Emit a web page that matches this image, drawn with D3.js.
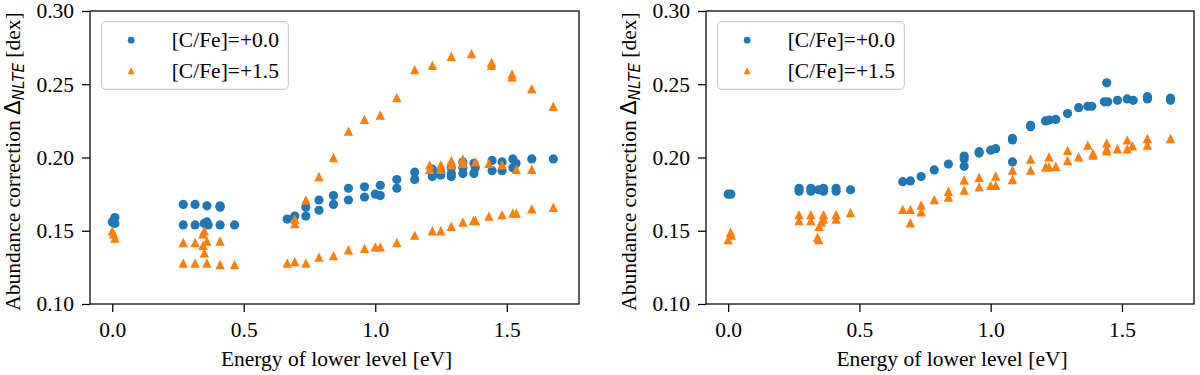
<!DOCTYPE html>
<html>
<head>
<meta charset="utf-8">
<script src="https://cdn.jsdelivr.net/npm/d3@7"></script>
<style>
  body { margin: 0; background: #fff; }
  svg { display: block; }
</style>
</head>
<body>
<svg id="chart" width="1200" height="375" font-family="Liberation Serif"></svg>
<script>
// ---------- Data (Energy of lower level [eV], abundance correction [dex]) ----------
const xTicks = [0.0, 0.5, 1.0, 1.5];
const yTicks = [0.10, 0.15, 0.20, 0.25, 0.30];
const legendLabels = ["[C/Fe]=+0.0", "[C/Fe]=+1.5"];

// Left panel, [C/Fe]=+0.0
const leftC00 = [
  [0.0,0.156],[0.01,0.159],[0.01,0.155],
  [0.27,0.168],[0.27,0.154],[0.315,0.168],[0.315,0.154],
  [0.35,0.155],[0.36,0.156],[0.36,0.167],[0.365,0.154],
  [0.41,0.167],[0.41,0.154],[0.41,0.166],[0.465,0.154],
  [0.665,0.158],[0.694,0.160],[0.736,0.166],[0.736,0.160],
  [0.786,0.171],[0.786,0.164],[0.841,0.174],[0.841,0.168],
  [0.898,0.179],[0.898,0.171],[0.959,0.180],[0.959,0.173],
  [1.0,0.175],[1.019,0.181],[1.019,0.174],
  [1.082,0.185],[1.082,0.179],[1.150,0.190],[1.150,0.185],
  [1.217,0.192],[1.217,0.189],[1.217,0.187],
  [1.249,0.190],[1.249,0.188],
  [1.289,0.193],[1.289,0.189],[1.289,0.187],
  [1.333,0.197],[1.333,0.193],[1.333,0.189],
  [1.375,0.196],[1.375,0.189],[1.38,0.193],
  [1.444,0.198],[1.444,0.191],[1.482,0.197],[1.482,0.191],
  [1.523,0.199],[1.523,0.193],[1.535,0.196],
  [1.595,0.199],[1.677,0.199]
];
// Left panel, [C/Fe]=+1.5
const leftC15 = [
  [0.0,0.150],[0.005,0.148],[0.01,0.145],
  [0.27,0.142],[0.27,0.128],[0.315,0.142],[0.315,0.128],
  [0.345,0.148],[0.345,0.140],[0.35,0.150],[0.35,0.135],
  [0.36,0.143],[0.36,0.128],[0.41,0.143],[0.41,0.127],[0.465,0.127],
  [0.665,0.128],[0.694,0.129],[0.694,0.158],[0.694,0.155],
  [0.736,0.128],[0.736,0.171],[0.786,0.187],[0.786,0.132],
  [0.841,0.200],[0.841,0.133],[0.898,0.218],[0.898,0.137],
  [0.959,0.226],[0.959,0.138],[1.0,0.139],[1.019,0.229],[1.019,0.139],
  [1.082,0.241],[1.082,0.142],[1.150,0.260],[1.150,0.147],
  [1.207,0.195],[1.207,0.192],[1.217,0.263],[1.217,0.150],
  [1.249,0.195],[1.249,0.192],[1.249,0.150],
  [1.289,0.269],[1.289,0.198],[1.289,0.195],[1.289,0.153],
  [1.333,0.199],[1.333,0.196],[1.333,0.156],
  [1.366,0.271],[1.373,0.157],[1.381,0.197],[1.381,0.157],
  [1.432,0.196],[1.432,0.160],[1.442,0.265],[1.442,0.263],
  [1.482,0.195],[1.482,0.161],[1.52,0.257],[1.52,0.255],
  [1.523,0.162],[1.536,0.192],[1.536,0.162],
  [1.595,0.247],[1.595,0.192],[1.595,0.165],
  [1.677,0.235],[1.677,0.166]
];
// Right panel, [C/Fe]=+0.0
const rightC00 = [
  [0.0,0.175],[0.01,0.175],
  [0.27,0.179],[0.27,0.177],[0.315,0.179],[0.315,0.177],
  [0.344,0.178],[0.357,0.178],[0.363,0.179],[0.363,0.177],
  [0.411,0.179],[0.411,0.177],[0.466,0.178],
  [0.665,0.1835],[0.694,0.184],[0.735,0.187],[0.785,0.1915],[0.839,0.1955],
  [0.899,0.201],[0.899,0.199],[0.899,0.194],[0.956,0.204],[0.956,0.203],
  [1.0,0.205],[1.019,0.206],[1.083,0.213],[1.083,0.212],[1.083,0.197],
  [1.152,0.222],[1.152,0.221],[1.209,0.225],[1.223,0.2256],[1.248,0.226],
  [1.293,0.230],[1.335,0.234],[1.37,0.235],[1.385,0.235],
  [1.433,0.238],[1.442,0.251],[1.446,0.238],[1.483,0.239],
  [1.52,0.240],[1.543,0.239],[1.597,0.2415],[1.597,0.240],
  [1.685,0.2405],[1.685,0.239]
];
// Right panel, [C/Fe]=+1.5
const rightC15 = [
  [0.0,0.144],[0.009,0.149],[0.012,0.147],
  [0.27,0.161],[0.27,0.157],[0.315,0.161],[0.315,0.157],
  [0.34,0.1455],[0.345,0.144],[0.346,0.153],[0.355,0.156],
  [0.363,0.161],[0.363,0.158],[0.411,0.161],[0.411,0.158],[0.466,0.1625],
  [0.665,0.1646],[0.694,0.1646],[0.694,0.1555],[0.735,0.1676],[0.735,0.163],
  [0.785,0.1713],[0.839,0.177],[0.839,0.173],[0.899,0.1846],[0.899,0.1778],
  [0.956,0.1865],[0.956,0.180],[1.0,0.181],[1.019,0.1874],[1.019,0.181],
  [1.083,0.1915],[1.083,0.185],[1.152,0.199],[1.152,0.1915],
  [1.209,0.1937],[1.222,0.2005],[1.222,0.1937],[1.248,0.194],
  [1.293,0.205],[1.293,0.198],[1.335,0.2005],[1.37,0.2085],
  [1.39,0.2017],[1.39,0.203],[1.442,0.210],[1.442,0.2046],[1.442,0.206],
  [1.483,0.206],[1.52,0.212],[1.52,0.206],[1.54,0.208],
  [1.597,0.213],[1.597,0.2085],[1.685,0.213]
];

// ---------- Drawing ----------
const BLUE = "#1f77b4", ORANGE = "#ff7f0e";
const SERIF = "Liberation Serif";
const FS = 21.5;
const svg = d3.select("#chart");
const plotTop = 11, plotBottom = 304;

function triPath(r) {
  return `M0,${-r}L${r},${r}L${-r},${r}Z`;
}

function panel(left, right, c00, c15) {
  const g = svg.append("g");
  const x = d3.scaleLinear().domain([-0.0845, 1.7745]).range([left, right]);
  const y = d3.scaleLinear().domain([0.10, 0.30]).range([plotBottom, plotTop]);

  // points
  g.append("g").selectAll("circle").data(c00).join("circle")
    .attr("cx", d => x(d[0])).attr("cy", d => y(d[1]))
    .attr("r", 4.6).attr("fill", BLUE);
  g.append("g").selectAll("path").data(c15).join("path")
    .attr("transform", d => `translate(${x(d[0])},${y(d[1])})`)
    .attr("d", triPath(4.7)).attr("fill", ORANGE);

  // axes
  const xAxis = d3.axisBottom(x).tickValues(xTicks).tickFormat(d3.format(".1f"))
    .tickSizeOuter(0).tickSizeInner(8).tickPadding(10);
  const yAxis = d3.axisLeft(y).tickValues(yTicks).tickFormat(d3.format(".2f"))
    .tickSizeOuter(0).tickSizeInner(8).tickPadding(8);
  const gx = g.append("g").attr("transform", `translate(0,${plotBottom})`).call(xAxis);
  const gy = g.append("g").attr("transform", `translate(${left},0)`).call(yAxis);
  [gx, gy].forEach(a => {
    a.attr("font-family", SERIF).attr("font-size", FS);
    a.select(".domain").remove();
    a.selectAll("line").attr("stroke", "#000").attr("stroke-width", 1.25);
    a.selectAll("text").attr("font-family", SERIF).attr("font-size", FS).attr("fill", "#000");
  });
  gx.selectAll("text").attr("dy", "0.71em");

  // frame
  g.append("rect").attr("x", left).attr("y", plotTop)
    .attr("width", right - left).attr("height", plotBottom - plotTop)
    .attr("fill", "none").attr("stroke", "#000").attr("stroke-width", 1.25);

  // x label
  g.append("text").attr("x", (left + right) / 2 + 2).attr("y", 366)
    .attr("text-anchor", "middle").attr("font-family", SERIF).attr("font-size", FS)
    .text("Energy of lower level [eV]");

  // y label
  const yl = g.append("text")
    .attr("transform", `translate(${left - 70},${(plotTop + plotBottom) / 2 + 4}) rotate(-90)`)
    .attr("text-anchor", "middle").attr("font-family", SERIF).attr("font-size", FS);
  yl.append("tspan").text("Abundance correction ");
  yl.append("tspan").attr("font-family", "DejaVu Sans").attr("font-size", FS).text("Δ");
  yl.append("tspan").attr("font-family", "DejaVu Sans").attr("font-style", "italic")
    .attr("font-size", 15).attr("dy", 4).text("NLTE");
  yl.append("tspan").attr("dy", -4).text(" [dex]");

  // legend
  const lx = left + 11.7, ly = 21.7;
  const lg = g.append("g");
  lg.append("rect").attr("x", lx).attr("y", ly).attr("width", 186.6).attr("height", 67.6)
    .attr("rx", 4).attr("fill", "#fff").attr("fill-opacity", 0.8)
    .attr("stroke", "#cccccc").attr("stroke-width", 1.2);
  const rows = [ly + 18.5, ly + 49];
  lg.append("circle").attr("cx", lx + 29.5).attr("cy", rows[0]).attr("r", 3.4).attr("fill", BLUE);
  lg.append("path").attr("transform", `translate(${lx + 29.5},${rows[1]})`)
    .attr("d", triPath(3.5)).attr("fill", ORANGE);
  legendLabels.forEach((t, i) => {
    lg.append("text").attr("x", lx + 70).attr("y", rows[i] + 7)
      .attr("font-family", SERIF).attr("font-size", FS).text(t);
  });
}

panel(90, 579, leftC00, leftC15);
panel(706, 1194, rightC00, rightC15);
</script>
</body>
</html>
